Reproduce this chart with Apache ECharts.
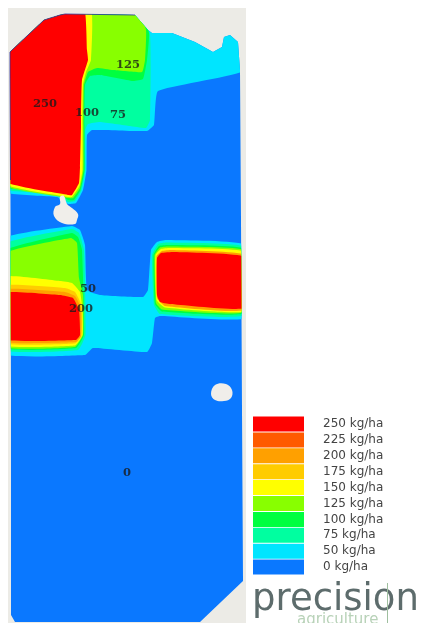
<!DOCTYPE html>
<html><head><meta charset="utf-8">
<style>html,body{margin:0;padding:0;background:#fff;overflow:hidden}#c{width:421px;height:623px;filter:blur(0.7px)}</style>
<script src="https://cdn.jsdelivr.net/npm/echarts@6/dist/echarts.min.js"></script>
</head><body><div id="c"></div>
<script>
// Rate classes (kg/ha) and their legend colours
const rates = [250,225,200,175,150,125,100,75,50,0];
const rateColors = ['#ff0000','#ff5a00','#ffa000','#ffcc00','#ffff00','#88ff00','#00ff40','#00ffa0','#00e5ff','#0a78ff'];

// Field geometry, in map units
const sheet = [[8,8],[246,8],[246,623],[8,623]];
const fieldOutline = [[10,52],[12,50],[44,20],[60,15],[65,14],[135,15],[148,30],[152,33],[172,33],[195,42],[213,52],[222,47],[224,37],[230,35],[238,42],[240,70],[241,220],[242,410],[243,581],[200,622],[15,622],[11,615],[11,400],[10.5,210],[10,70]];
const fieldEdge = [[10.5,180],[10,70],[10,52],[12,50],[44,20],[60,15],[65,14],[135,15]];
const holeNorth = [[60,197],[64,196],[67,204],[72,208],[78,214],[77,220],[75,224],[62,223],[54,216],[55,207],[60,204]];
const holeSouth = [[215,385],[226,384],[232,390],[231,398],[224,401],[215,400],[211,394]];

const base0 = [[0,0],[421,0],[421,623],[0,623]];
const north50 = [[0,5],[245,5],[245,70],[158,91],[154,125],[147,131],[92,130],[87,135],[86.5,170],[83,190],[76,203],[68,204],[57,197],[0,190]];
const north75 = [[0,5],[136,5],[150,35],[150,120],[146,128],[130,126],[100,122],[88,124],[85.3,130],[85.3,170],[81.5,190],[75,201],[68,202],[57,194],[0,187]];
const north100 = [[0,5],[136,5],[149,33],[147,60],[143,79],[133,81],[100,75],[90,76],[85,85],[84.5,125],[84.5,170],[80.5,190],[74,200],[68,200],[57,192],[0,185]];
const north125 = [[0,5],[136,5],[146,30],[145,60],[142,72],[113,70],[97,68],[88,72],[84,85],[83.5,125],[83.5,170],[80,188],[73,198],[68,198],[0,183]];
const north150 = [[0,5],[90,5],[91,60],[86,72],[83,85],[82.5,125],[82.5,170],[79.5,186],[72,197],[68,197],[0,181.5]];
const north250 = [[0,5],[83,5],[87,50],[88,60],[82,80],[81,117],[81,127],[80,167],[79,183],[72,195],[68,195],[0,179]];

const bridge50 = [[0,240],[72,226],[80,230],[85,245],[87,290],[100,295],[143,297],[148,290],[151,250],[157,242],[166,240],[245,245],[245,318],[160,316],[155,318],[152,343],[147,352],[93,348],[85,355],[0,353]];

const west75 = [[0,246],[72,229],[79,233],[84,250],[85.5,335],[78,350],[0,349]];
const west100 = [[0,253],[72,233],[78,237],[82,250],[84,335],[76,348],[0,347]];
const west125 = [[0,255.5],[71,238],[77,243],[79,278],[83,295],[83,335],[75,347],[0,346]];
const west150 = [[0,277],[60,281],[72,283],[80,292],[82.5,310],[82.5,335],[75,345.5],[0,344.5]];
const west175 = [[0,286],[65,288],[75,292],[81.5,305],[81.5,336],[75,343.5],[0,342.5]];
const west200 = [[0,290],[65,292],[75,296],[81,308],[81,336],[76,342],[0,341]];
const west250 = [[0,293],[60,295],[73,298],[79,310],[80,335],[76,340],[0,339]];

const east75 = [[152,255],[158,244],[166,242.5],[245,247],[245,315],[160,314],[154,305]];
const east100 = [[153.5,255],[159,246],[168,245],[245,249],[245,313],[162,311.5],[155,304]];
const east125 = [[154.5,255],[160,247.5],[168,246.5],[245,250.5],[245,312],[162,309.5],[156,303]];
const east150 = [[155.5,255],[161,249],[170,248],[245,252],[245,311],[165,307.5],[156.5,300]];
const east200 = [[156.5,256],[162,251],[172,250],[245,255],[245,310],[165,306],[157,298]];
const east250 = [[157,258],[161,253],[175,252],[245,257],[245,308],[170,304],[160,302],[157,295]];

const rateZones = [
  [0,base0],[50,north50],[75,north75],[100,north100],[125,north125],[150,north150],[250,north250],
  [50,bridge50],
  [75,west75],[100,west100],[125,west125],[150,west150],[175,west175],[200,west200],[250,west250],
  [75,east75],[100,east100],[125,east125],[150,east150],[200,east200],[250,east250]
];

// Contour labels
const contourLabels = [[128,65,'125'],[45,104,'250'],[87,113,'100'],[118,115,'75'],[88,289,'50'],[81,309,'200'],[127,473,'0']];

const chart = echarts.init(document.getElementById('c'),null,{renderer:'canvas'});
function poly(api,pts){return pts.map(p=>api.coord(p));}
chart.setOption({
  animation:false,
  backgroundColor:'#ffffff',
  grid:{left:0,right:0,top:0,bottom:0},
  xAxis:{type:'value',min:0,max:421,show:false},
  yAxis:{type:'value',min:0,max:623,inverse:true,show:false},
  tooltip:{show:false},
  visualMap:{
    type:'piecewise',seriesIndex:1,dimension:0,left:238,top:401.5,orient:'vertical',
    itemWidth:51,itemHeight:15,itemGap:0.9,textGap:19,align:'left',selectedMode:false,hoverLink:false,itemSymbol:'rect',
    textStyle:{color:'#444',fontSize:12,fontFamily:'DejaVu Sans'},
    pieces:rates.map((r,i)=>({value:r,label:r+' kg/ha',color:rateColors[i],symbol:'rect'}))
  },
  graphic:[
    {type:'text',left:252,top:582,silent:true,style:{text:'precision',fontFamily:'DejaVu Sans',fontSize:37,fontWeight:'normal',fill:'#5d6c6c'}},
    {type:'text',left:297,top:613,silent:true,style:{text:'agriculture',fontFamily:'DejaVu Sans',fontSize:15,fill:'#b8d2b8'}},
    {type:'rect',left:387,top:583,shape:{width:1,height:40},silent:true,style:{fill:'#9fbf9f'}}
  ],
  series:[
    {type:'custom',coordinateSystem:'cartesian2d',clip:false,silent:true,data:[[0,0]],
     renderItem:(p,api)=>({type:'polygon',shape:{points:poly(api,sheet)},style:{fill:'#ecebe6'}})},
    {type:'custom',coordinateSystem:'cartesian2d',clip:false,silent:true,
     data:rateZones.map((z,i)=>[z[0],i]),
     renderItem:(p,api)=>({type:'polygon',
        shape:{points:poly(api,rateZones[api.value(1)][1]),smooth:0.12},
        style:{fill:api.visual('color')},
        clipPath:{type:'polygon',shape:{points:poly(api,fieldOutline)}}})},
    {type:'custom',coordinateSystem:'cartesian2d',clip:false,silent:true,data:[[0,0],[1,0]],
     renderItem:(p,api)=>({type:'polygon',shape:{points:poly(api,api.value(0)?holeSouth:holeNorth),smooth:0.4},style:{fill:'#f0eeea'}})},
    {type:'custom',coordinateSystem:'cartesian2d',clip:false,silent:true,data:[[0,0]],
     renderItem:(p,api)=>({type:'polyline',shape:{points:poly(api,fieldEdge)},style:{fill:null,stroke:'#2a2fa0',lineWidth:1,opacity:.8}})},
    {type:'scatter',symbolSize:0,silent:true,data:contourLabels,
     label:{show:true,position:'inside',formatter:p=>p.value[2],color:'#1a1a1a',fontFamily:'DejaVu Serif',fontWeight:'bold',fontSize:11.5}}
  ]
});
</script></body></html>
